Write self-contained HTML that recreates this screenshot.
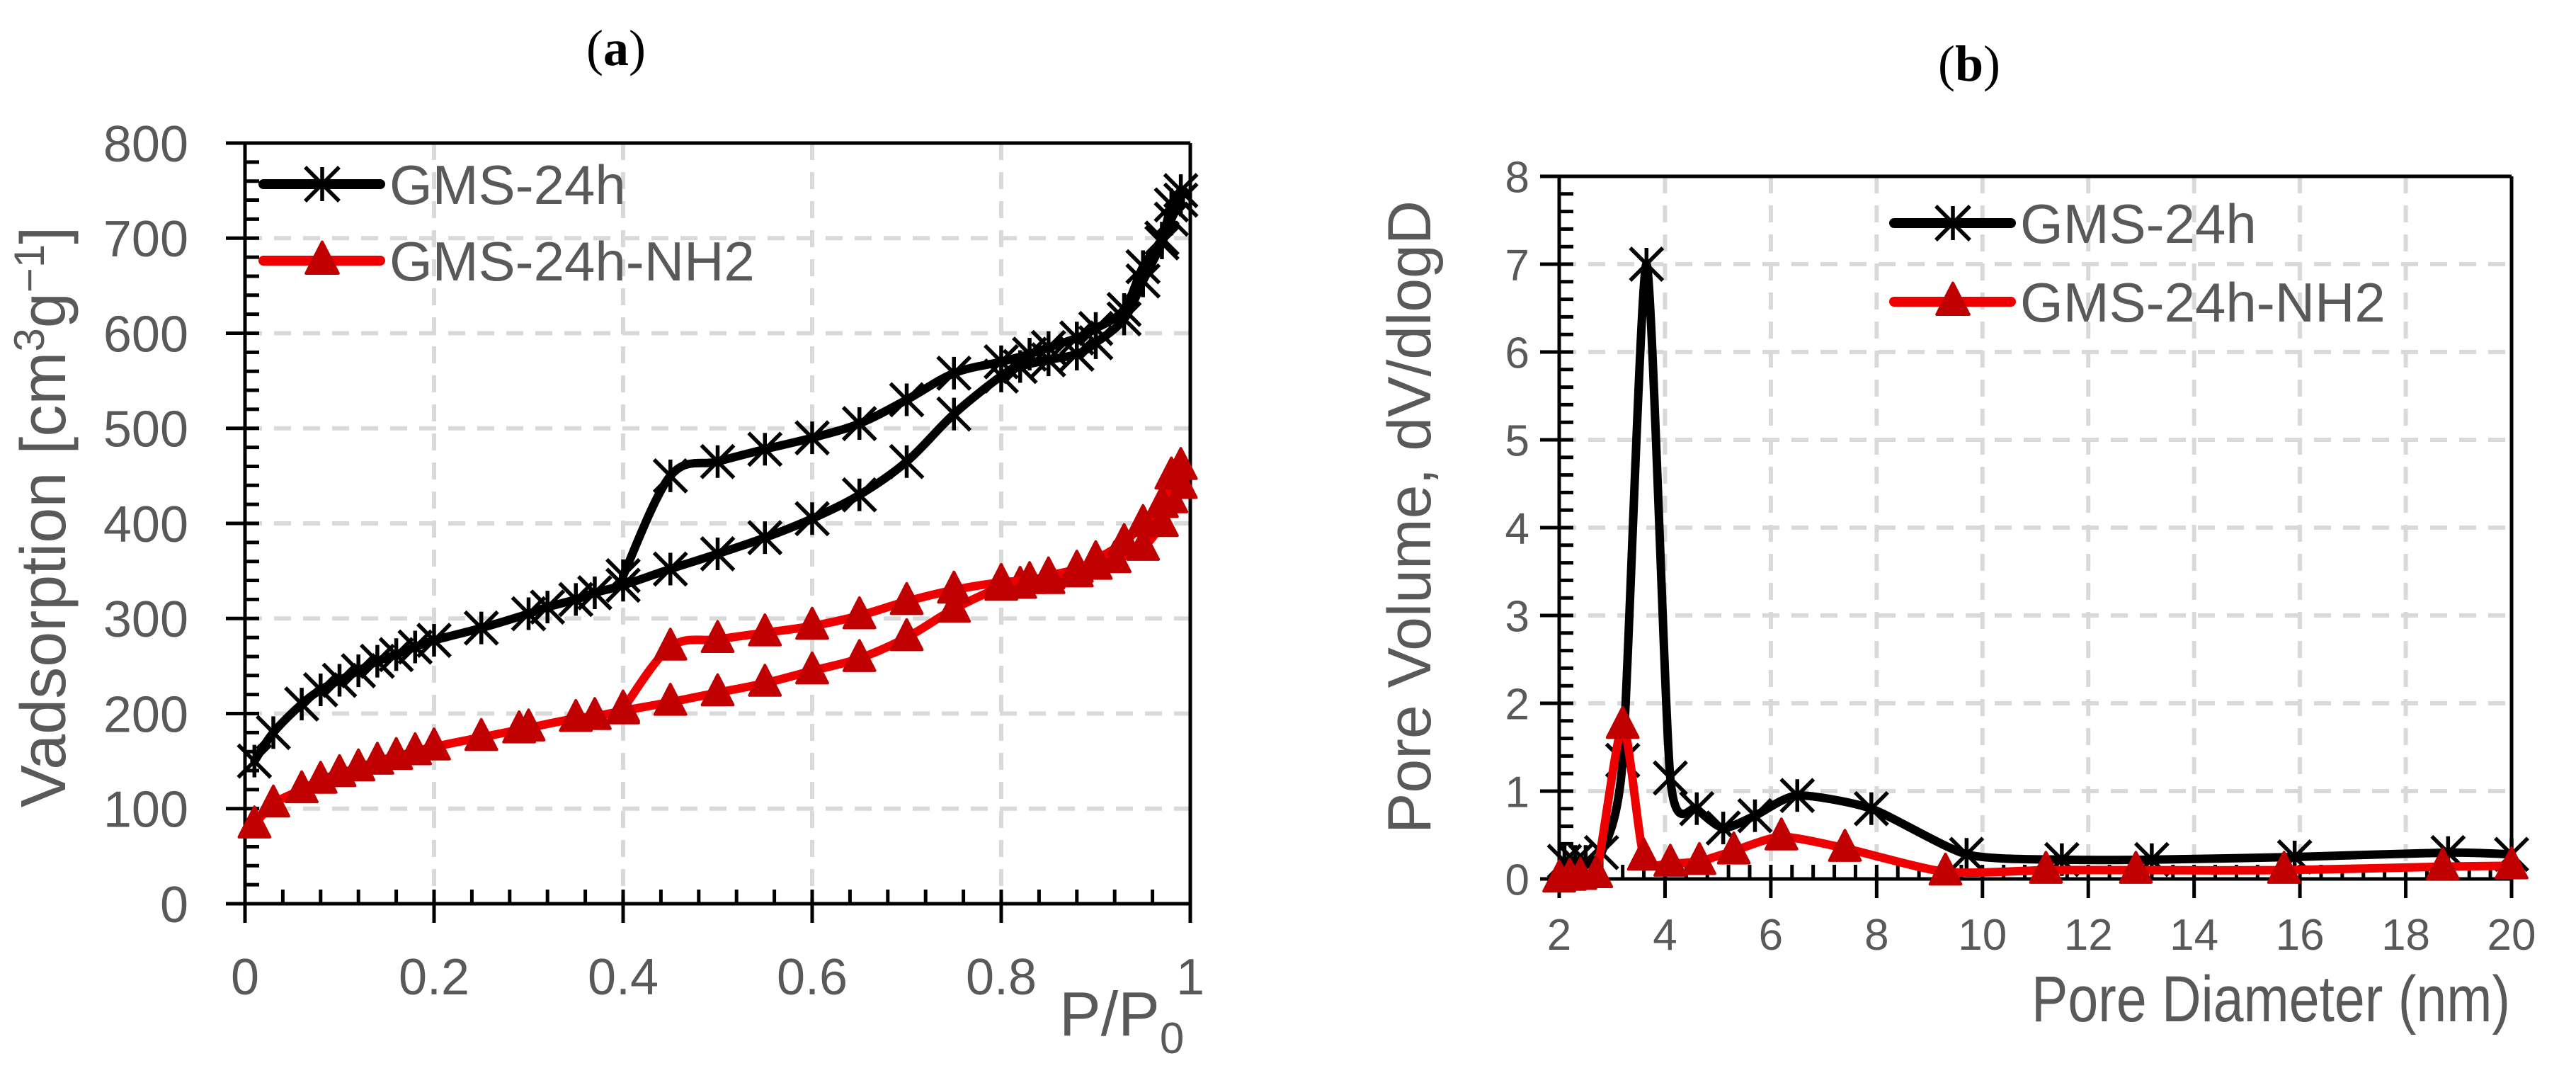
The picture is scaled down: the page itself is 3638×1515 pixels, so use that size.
<!DOCTYPE html>
<html><head><meta charset="utf-8"><style>
html,body{margin:0;padding:0;background:#fff;}
svg{display:block;font-family:"Liberation Sans","DejaVu Sans",sans-serif;}
</style></head><body>
<svg id="fig" width="3638" height="1515" viewBox="0 0 3638 1515" xmlns="http://www.w3.org/2000/svg">
<rect width="3638" height="1515" fill="#fff"/>
<text x="870" y="92" font-family="Liberation Serif,serif" font-size="72" text-anchor="middle" fill="#000">(<tspan font-weight="bold">a</tspan>)</text>
<text x="2781" y="114" font-family="Liberation Serif,serif" font-size="72" text-anchor="middle" fill="#000">(<tspan font-weight="bold">b</tspan>)</text>
<g id="ca"></g>
<g id="cb"></g>
</svg>
<script>
// ---- Chart A data (isotherms) ----
const aBlackAdsX=[0.01,0.03,0.06,0.08,0.1,0.12,0.14,0.16,0.18,0.2,0.25,0.3,0.32,0.35,0.37,0.4,0.45,0.5,0.55,0.6,0.65,0.7,0.75,0.8,0.82,0.85,0.88,0.9,0.93,0.95,0.97,0.98,0.99];
const aBlackAdsY=[150,180,210,225,235,245,255,262,270,277,290,305,312,320,327,335,352,368,385,405,430,465,515,555,565,572,578,590,615,655,695,720,740];
const aBlackDesX=[0.99,0.98,0.97,0.95,0.93,0.9,0.88,0.85,0.83,0.8,0.75,0.7,0.65,0.6,0.55,0.5,0.45,0.4];
const aBlackDesY=[750,735,700,670,625,605,595,585,578,570,558,530,505,490,478,465,450,345];
const aRedAdsX=[0.01,0.03,0.06,0.08,0.1,0.12,0.14,0.16,0.18,0.2,0.25,0.29,0.3,0.35,0.37,0.4,0.45,0.5,0.55,0.6,0.65,0.7,0.75,0.8,0.82,0.85,0.88,0.9,0.92,0.95,0.97,0.98,0.99];
const aRedAdsY=[83,105,120,130,137,143,150,155,160,165,175,183,185,195,197,203,212,222,232,245,258,280,310,333,335,340,347,355,362,375,400,425,440];
const aRedDesX=[0.99,0.98,0.97,0.95,0.93,0.9,0.88,0.85,0.83,0.8,0.75,0.7,0.65,0.6,0.55,0.5,0.45,0.4];
const aRedDesY=[460,450,420,400,380,362,352,345,340,338,330,318,303,292,285,278,270,205];
const aXTicks=["0","0.2","0.4","0.6","0.8","1"];
const aYTicks=["0","100","200","300","400","500","600","700","800"];
// ---- Chart B data (pore size distribution) ----
const bBlackX=[2.1,2.3,2.5,2.8,3.2,3.65,4.1,4.6,5.1,5.7,6.5,7.9,9.7,11.5,13.2,15.9,18.8,20];
const bBlackY=[0.2,0.2,0.2,0.3,1.35,7.0,1.15,0.8,0.58,0.72,0.95,0.8,0.28,0.22,0.22,0.25,0.3,0.28];
const bRedX=[2.0,2.2,2.4,2.7,3.2,3.6,4.1,4.65,5.3,6.2,7.4,9.3,11.2,12.9,15.7,18.7,20];
const bRedY=[0,0.02,0.03,0.05,1.75,0.25,0.18,0.2,0.32,0.48,0.35,0.08,0.1,0.1,0.1,0.14,0.15];
const bXTicks=["2","4","6","8","10","12","14","16","18","20"];
const bYTicks=["0","1","2","3","4","5","6","7","8"];

const NS="http://www.w3.org/2000/svg";
function mk(parent,tag,attrs){const e=document.createElementNS(NS,tag);for(const k in attrs)e.setAttribute(k,attrs[k]);parent.appendChild(e);return e;}
function smooth(pts,t){
  if(pts.length<2)return"";
  let d="M"+pts[0][0]+","+pts[0][1];
  for(let i=0;i<pts.length-1;i++){
    const p0=pts[Math.max(0,i-1)],p1=pts[i],p2=pts[i+1],p3=pts[Math.min(pts.length-1,i+2)];
    const c1x=p1[0]+(p2[0]-p0[0])/t,c1y=p1[1]+(p2[1]-p0[1])/t;
    const c2x=p2[0]-(p3[0]-p1[0])/t,c2y=p2[1]-(p3[1]-p1[1])/t;
    d+=" C"+c1x+","+c1y+" "+c2x+","+c2y+" "+p2[0]+","+p2[1];
  }
  return d;
}
function star(g,x,y,s){
  const m=mk(g,"path",{d:`M${x},${y-s}L${x},${y+s}M${x-s},${y-s}L${x+s},${y+s}M${x-s},${y+s}L${x+s},${y-s}`,stroke:"#000","stroke-width":5.5,fill:"none"});
  
  
}
function tri(g,x,y,s){
  const m=mk(g,"path",{d:`M${x},${y-s*1.1}L${x+s*0.95},${y+s*0.75}L${x-s*0.95},${y+s*0.75}Z`,fill:"#c00000",stroke:"#c00000","stroke-width":4,"stroke-linejoin":"round"});
  
  
}

function drawChart(g,cfg){
  const {x0,x1,y0,y1,xmin,xmax,ymin,ymax,xt,yt,xminor,yminor,fs}=cfg;
  const X=v=>x0+(v-xmin)/(xmax-xmin)*(x1-x0);
  const Y=v=>y0-(v-ymin)/(ymax-ymin)*(y0-y1);
  const grid=mk(g,"g",{});
  
  
  xt.forEach(t=>{const v=parseFloat(t);if(v>xmin&&v<xmax)mk(grid,"line",{x1:X(v),x2:X(v),y1:y1,y2:y0,stroke:"#d9d9d9","stroke-width":6,"stroke-dasharray":"24,17"});});
  yt.forEach(t=>{const v=parseFloat(t);if(v>ymin&&v<ymax)mk(grid,"line",{x1:x0,x2:x1,y1:Y(v),y2:Y(v),stroke:"#d9d9d9","stroke-width":6,"stroke-dasharray":"24,17"});});
  const ax=mk(g,"g",{stroke:"#000","stroke-width":5});
  
  
  mk(ax,"line",{x1:x0-27,x2:x1,y1:y0,y2:y0});
  mk(ax,"line",{x1:x0-27,x2:x1,y1:y1,y2:y1});
  mk(ax,"line",{x1:x0,x2:x0,y1:y1,y2:y0+27});
  mk(ax,"line",{x1:x1,x2:x1,y1:y1,y2:y0});
  for(let v=xmin;v<=xmax+1e-9;v+=xminor){mk(ax,"line",{x1:X(v),x2:X(v),y1:y0,y2:y0-20});}
  for(let v=ymin;v<=ymax+1e-9;v+=yminor){mk(ax,"line",{x1:x0,x2:x0+20,y1:Y(v),y2:Y(v)});}
  xt.forEach(t=>{const v=parseFloat(t);mk(ax,"line",{x1:X(v),x2:X(v),y1:y0,y2:y0+27});
    const tx=mk(g,"text",{x:X(v),y:y0+cfg.xlabOff,"font-size":fs,fill:"#595959","text-anchor":"middle"});tx.textContent=t;
    
    });
  yt.forEach(t=>{const v=parseFloat(t);mk(ax,"line",{x1:x0-27,x2:x0,y1:Y(v),y2:Y(v)});
    const tx=mk(g,"text",{x:x0-cfg.ylabOff,y:Y(v)+fs*0.36,"font-size":fs,fill:"#595959","text-anchor":"end"});tx.textContent=t;
    
    });
  return {X,Y};
}
function series(g,X,Y,xs,ys,color,marker,name,t){
  const s=mk(g,"g",{});
  
  
  const pts=xs.map((x,i)=>[X(x),Y(ys[i])]);
  mk(s,"path",{d:smooth(pts,t||6),stroke:color,"stroke-width":12,fill:"none","stroke-linejoin":"round","stroke-linecap":"round"});
  pts.forEach(p=>marker(s,p[0],p[1],23));
}
function legend(g,x,y,label,color,marker,name){
  const l=mk(g,"g",{});
  
  
  mk(l,"line",{x1:x,x2:x+165,y1:y,y2:y,stroke:color,"stroke-width":14,"stroke-linecap":"round"});
  marker(l,x+83,y,24);
  const t=mk(l,"text",{x:x+178,y:y+28,"font-size":78,fill:"#595959"});t.textContent=label;
}

// Chart A
const ga=document.getElementById('ca');
const A=drawChart(ga,{x0:346,x1:1681,y0:1276,y1:202,xmin:0,xmax:1,ymin:0,ymax:800,xt:aXTicks,yt:aYTicks,xminor:0.04,yminor:20,fs:72,xlabOff:128,ylabOff:80});
series(ga,A.X,A.Y,aBlackAdsX,aBlackAdsY,"#000",star,"gms-24h-adsorption");
series(ga,A.X,A.Y,aBlackDesX,aBlackDesY,"#000",star,"gms-24h-desorption");
series(ga,A.X,A.Y,aRedAdsX,aRedAdsY,"#ee0000",tri,"gms-24h-nh2-adsorption");
series(ga,A.X,A.Y,aRedDesX,aRedDesY,"#ee0000",tri,"gms-24h-nh2-desorption");
legend(ga,372,260,"GMS-24h","#000",star,"legend-gms-24h");
legend(ga,372,368,"GMS-24h-NH2","#ee0000",tri,"legend-gms-24h-nh2");
let t=mk(ga,"text",{transform:"translate(92,730) rotate(-90)","font-size":90,fill:"#595959","text-anchor":"middle"});
t.innerHTML='Vadsorption [cm<tspan dy="-30" font-size="60">3</tspan><tspan dy="30">g</tspan><tspan dy="-30" font-size="60">−1</tspan><tspan dy="30">]</tspan>';


t=mk(ga,"text",{x:1496,y:1462,"font-size":88,fill:"#595959"});
t.innerHTML='P/P<tspan dy="25" font-size="62">0</tspan>';



// Chart B
const gb=document.getElementById('cb');
const B=drawChart(gb,{x0:2202,x1:3547,y0:1241,y1:249,xmin:2,xmax:20,ymin:0,ymax:8,xt:bXTicks,yt:bYTicks,xminor:0.4,yminor:0.2,fs:62,xlabOff:100,ylabOff:42});
series(gb,B.X,B.Y,bBlackX,bBlackY,"#000",star,"gms-24h-psd",9);
series(gb,B.X,B.Y,bRedX,bRedY,"#ee0000",tri,"gms-24h-nh2-psd",9);
legend(gb,2675,315,"GMS-24h","#000",star,"legend-b-gms-24h");
legend(gb,2675,426,"GMS-24h-NH2","#ee0000",tri,"legend-b-gms-24h-nh2");
t=mk(gb,"text",{transform:"translate(2020,730) rotate(-90)","font-size":86,fill:"#595959","text-anchor":"middle"});
t.textContent="Pore Volume, dV/dlogD";


t=mk(gb,"text",{x:2869,y:1442,"font-size":92,fill:"#595959",textLength:676,lengthAdjust:"spacingAndGlyphs"});
t.textContent="Pore Diameter (nm)";


</script>
</body></html>
